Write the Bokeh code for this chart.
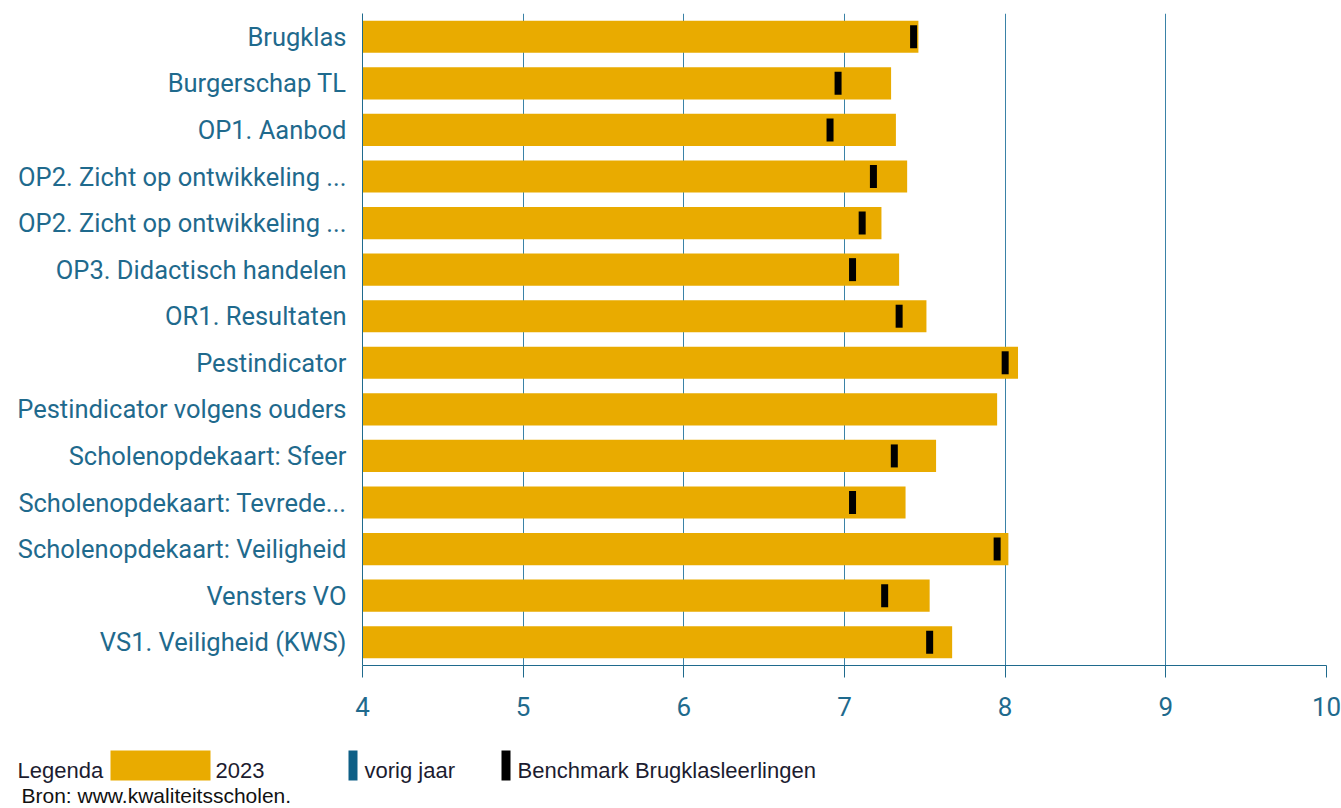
from bokeh.plotting import figure
from bokeh.models import Range1d, FixedTicker
from bokeh.layouts import column, row
from bokeh.embed import file_html
from bokeh.resources import INLINE
from bokeh.core.properties import value

categories = [
    "Brugklas",
    "Burgerschap TL",
    "OP1. Aanbod",
    "OP2. Zicht op ontwikkeling ...",
    "OP2. Zicht op ontwikkeling ...",
    "OP3. Didactisch handelen",
    "OR1. Resultaten",
    "Pestindicator",
    "Pestindicator volgens ouders",
    "Scholenopdekaart: Sfeer",
    "Scholenopdekaart: Tevrede...",
    "Scholenopdekaart: Veiligheid",
    "Vensters VO",
    "VS1. Veiligheid (KWS)",
]
score_2023 = [7.46, 7.29, 7.32, 7.39, 7.23, 7.34, 7.51, 8.08, 7.95, 7.57, 7.38, 8.02, 7.53, 7.67]
benchmark = [7.43, 6.96, 6.91, 7.18, 7.11, 7.05, 7.34, 8.00, None, 7.31, 7.05, 7.95, 7.25, 7.53]
x_ticks = [4, 5, 6, 7, 8, 9, 10]
legend_title = "Legenda"
legend_items = ["2023", "vorig jaar", "Benchmark Brugklasleerlingen"]
source_note = "Bron: www.kwaliteitsscholen."

GOLD = "#E9AB00"
TEAL = "#1F6A8D"
GRID = "#3A82A7"
FONT = "Roboto"

W = 1341
ys = list(range(len(categories)))

p = figure(width=W, height=740, x_range=Range1d(4, 10),
           y_range=Range1d(len(categories) - 0.5, -0.5),
           toolbar_location=None, output_backend="svg",
           min_border_left=362, min_border_right=15,
           min_border_top=13, min_border_bottom=75)
p.outline_line_color = None
p.background_fill_color = "white"
p.border_fill_color = "white"

p.hbar(y=ys, left=4, right=score_2023, height=0.69, fill_color=GOLD, line_color=None)

bx = [b for b in benchmark if b is not None]
by = [y for y, b in zip(ys, benchmark) if b is not None]
p.rect(x=bx, y=by, width=7, height=23, width_units="screen", height_units="screen",
       fill_color="black", line_color=None)

p.xgrid.ticker = FixedTicker(ticks=x_ticks)
p.xgrid.grid_line_color = GRID
p.xgrid.grid_line_width = 1
p.ygrid.grid_line_color = None

xa = p.xaxis[0]
xa.ticker = FixedTicker(ticks=x_ticks)
xa.major_tick_out = 12
xa.major_tick_in = 0
xa.minor_tick_line_color = None
xa.axis_line_color = TEAL
xa.major_tick_line_color = TEAL
xa.major_label_text_color = TEAL
xa.major_label_text_font = FONT
xa.major_label_text_font_size = "26px"
xa.major_label_standoff = 19

ya = p.yaxis[0]
ya.ticker = FixedTicker(ticks=ys)
ya.major_label_overrides = {i: c for i, c in zip(ys, categories)}
ya.major_tick_out = 0
ya.major_tick_in = 0
ya.minor_tick_line_color = None
ya.axis_line_color = TEAL
ya.major_label_text_color = TEAL
ya.major_label_text_font = FONT
ya.major_label_text_font_size = "25.5px"
ya.major_label_standoff = 16

# legend strip (coordinates in pixels of this strip)
LH = 66
lg = figure(width=W, height=LH, x_range=Range1d(0, W), y_range=Range1d(LH, 0),
            toolbar_location=None, output_backend="svg",
            min_border=0, min_border_left=0, min_border_right=0,
            min_border_top=0, min_border_bottom=0,
            x_axis_type=None, y_axis_type=None)
lg.outline_line_color = None
lg.xgrid.visible = False
lg.ygrid.visible = False

lg.quad(left=[110, 348, 501], right=[210, 357, 510], top=[10, 10, 10], bottom=[40, 40, 40],
        fill_color=[GOLD, "#0E5F86", "black"], line_color=None)
lg.text(x=[17, 215, 364, 517], y=[30, 30, 30, 30],
        text=[legend_title] + legend_items,
        text_baseline="middle", text_align="left",
        text_font=value("Liberation Sans"), text_font_size="22px", text_color="#1C1C30")
lg.text(x=[21], y=[55], text=[source_note], text_baseline="middle", text_align="left",
        text_font=value("Liberation Sans"), text_font_size="21px", text_color="#111111")

layout = column(p, row(lg), spacing=0)
open("out.html", "w").write(file_html(layout, INLINE))
